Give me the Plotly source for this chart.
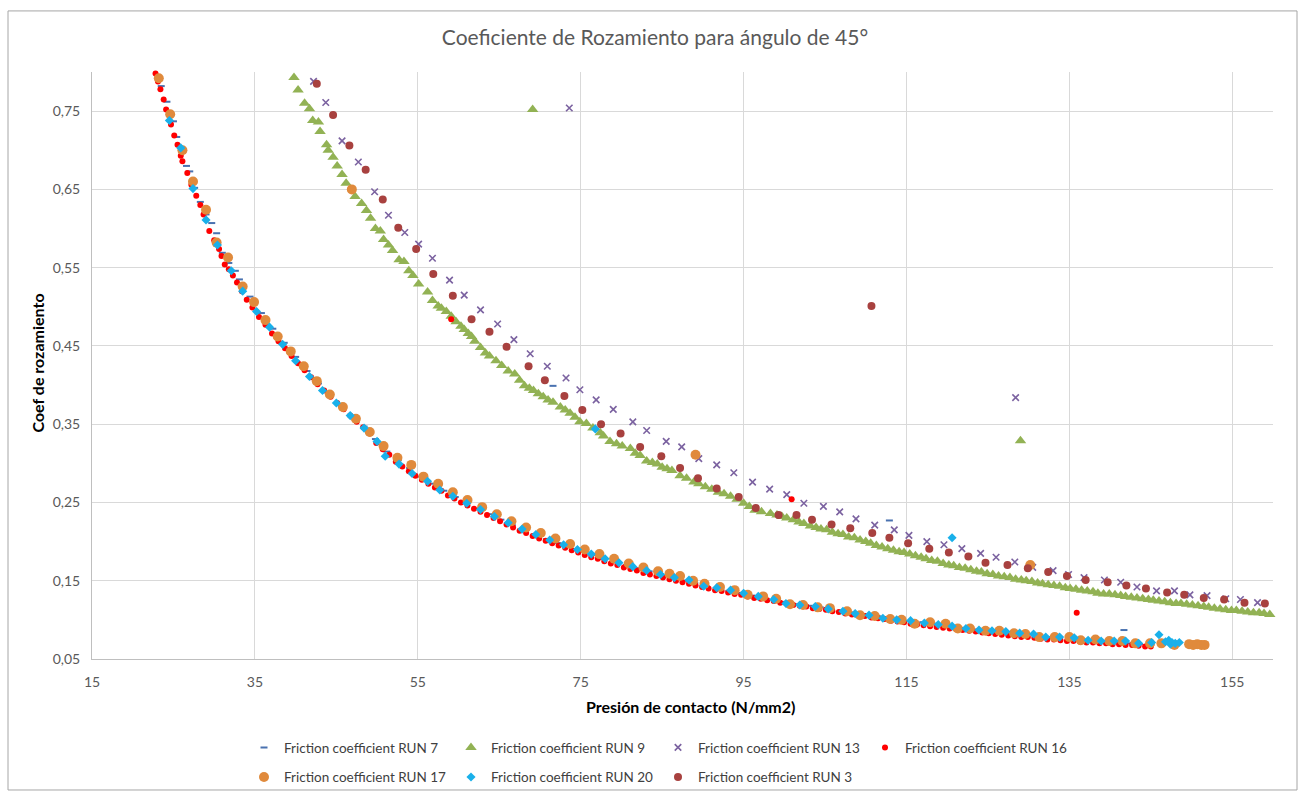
import plotly.graph_objects as go

# ---------------- data ----------------
x_run7 = [23.5, 24.2, 25.0, 25.4, 26.0, 26.6, 27.0, 27.6, 28.3, 29.0, 29.7, 30.3, 31.0, 31.8, 32.6, 33.1,
          34.4, 35.8, 37.2, 38.6, 40.0, 41.4, 42.8, 44.2, 45.6, 47.0, 48.4, 49.8, 51.2, 52.6, 54.0, 55.4,
          56.8, 58.2, 59.6, 61.0, 62.4, 63.8, 65.2, 66.6, 68.0, 69.4, 70.8, 71.6, 72.2, 73.6, 75.0, 76.4,
          77.8, 79.2, 80.6, 82.0, 83.4, 84.8, 86.2, 87.6, 89.0, 90.4, 91.8, 93.2, 94.6, 96.0, 97.4, 98.8,
          100.2, 101.6, 103.0, 104.4, 105.8, 107.2, 108.6, 110.0, 111.4, 112.8, 112.9, 114.2, 115.6, 117.0,
          118.4, 119.8, 121.2, 122.6, 124.0, 125.4, 126.8, 128.2, 129.6, 131.0, 132.4, 133.8, 135.2, 136.6,
          138.0, 139.4, 140.8, 141.7, 142.2, 143.6, 145.0, 146.4, 147.8]
y_run7 = [0.782, 0.762, 0.737, 0.717, 0.698, 0.680, 0.673, 0.652, 0.634, 0.618, 0.607, 0.594, 0.569, 0.556, 0.546, 0.535,
          0.513, 0.492, 0.472, 0.454, 0.436, 0.418, 0.402, 0.388, 0.374, 0.360, 0.347, 0.331, 0.315, 0.304, 0.294, 0.283,
          0.274, 0.265, 0.257, 0.249, 0.242, 0.235, 0.228, 0.221, 0.215, 0.209, 0.203, 0.399, 0.198, 0.193, 0.188, 0.183,
          0.178, 0.174, 0.170, 0.166, 0.162, 0.158, 0.154, 0.150, 0.147, 0.143, 0.140, 0.137, 0.134, 0.131, 0.128, 0.126,
          0.123, 0.120, 0.118, 0.116, 0.113, 0.111, 0.109, 0.107, 0.105, 0.103, 0.227, 0.101, 0.099, 0.097,
          0.095, 0.093, 0.091, 0.089, 0.087, 0.086, 0.084, 0.083, 0.081, 0.080, 0.078, 0.077, 0.076, 0.075,
          0.073, 0.072, 0.071, 0.087, 0.070, 0.069, 0.068, 0.068, 0.067]

x_run9 = [39.8, 40.3, 41.1, 41.7, 42.1, 42.8, 43.0, 43.8, 44.0, 44.6, 45.1, 45.7, 46.2, 47.3, 48.1, 48.7,
          49.2, 49.8, 50.4, 50.8, 51.4, 51.9, 52.7, 53.3, 53.9, 54.4, 55.1, 56.2, 56.8, 57.5, 57.9, 58.5,
          59.1, 59.7, 60.3, 60.7, 61.2, 61.6, 62.0, 62.7, 63.3, 63.8, 64.6, 65.3, 66.1, 66.9, 67.5, 68.1,
          68.7, 69.1, 69.2, 69.8, 70.4, 71.0, 71.6, 72.5, 73.1, 73.7, 74.3, 74.9, 75.7, 76.5, 77.4, 77.8,
          78.6, 79.4, 80.1, 81.1, 81.7, 82.3, 83.1, 83.8, 84.4, 85.0, 85.6, 86.2, 87.2, 88.0, 88.9, 89.5,
          90.3, 91.1, 91.9, 92.6, 93.4, 94.2, 95.0, 95.7, 96.4, 97.2, 98.3, 99.1, 99.7, 100.3, 101.1, 101.8,
          102.4, 103.2, 103.9, 104.5, 105.2, 105.9, 106.6, 107.2, 107.9, 108.6, 109.3, 110.0, 110.6, 111.3,
          112.0, 112.7, 113.4, 114.1, 114.7, 115.4, 116.1, 116.8, 117.4, 118.1, 118.8, 119.5, 120.2, 120.8,
          121.5, 122.2, 122.9, 123.6, 124.2, 124.9, 125.6, 126.3, 127.0, 127.7, 128.4, 129.0, 129.1, 129.7,
          130.4, 131.1, 131.7, 132.4, 133.1, 133.8, 134.5, 135.1, 135.8, 136.5, 137.2, 137.9, 138.5, 139.2,
          139.9, 140.6, 141.3, 141.9, 142.6, 143.3, 144.0, 144.7, 145.3, 146.0, 146.7, 147.4, 148.1, 148.7,
          149.4, 150.1, 150.8, 151.5, 152.1, 152.8, 153.5, 154.2, 154.9, 155.5, 156.2, 156.9, 157.6, 158.3,
          158.9, 159.6]
y_run9 = [0.793, 0.777, 0.760, 0.753, 0.738, 0.736, 0.724, 0.707, 0.700, 0.691, 0.680, 0.669, 0.658, 0.641, 0.632, 0.623,
          0.613, 0.600, 0.597, 0.586, 0.579, 0.572, 0.560, 0.558, 0.546, 0.540, 0.529, 0.519, 0.508, 0.501, 0.498, 0.494,
          0.488, 0.481, 0.475, 0.471, 0.466, 0.462, 0.456, 0.448, 0.441, 0.437, 0.431, 0.425, 0.418, 0.414, 0.406, 0.399,
          0.396, 0.752, 0.393, 0.389, 0.385, 0.381, 0.378, 0.372, 0.368, 0.364, 0.359, 0.353, 0.351, 0.345, 0.339, 0.335,
          0.328, 0.325, 0.322, 0.319, 0.313, 0.310, 0.303, 0.301, 0.299, 0.295, 0.293, 0.291, 0.284, 0.281, 0.276, 0.274,
          0.270, 0.267, 0.263, 0.261, 0.258, 0.254, 0.249, 0.245, 0.240, 0.238, 0.236, 0.234, 0.232, 0.230, 0.228, 0.225,
          0.223, 0.220, 0.218, 0.216, 0.215, 0.212, 0.210, 0.209, 0.206, 0.205, 0.202, 0.200, 0.198, 0.195,
          0.193, 0.191, 0.189, 0.187, 0.186, 0.184, 0.182, 0.180, 0.178, 0.176, 0.175, 0.172, 0.170, 0.169,
          0.167, 0.166, 0.164, 0.162, 0.161, 0.159, 0.158, 0.156, 0.155, 0.154, 0.152, 0.329, 0.151, 0.150,
          0.149, 0.147, 0.146, 0.145, 0.144, 0.143, 0.141, 0.140, 0.139, 0.138, 0.137, 0.136, 0.134, 0.133,
          0.133, 0.132, 0.131, 0.130, 0.129, 0.128, 0.127, 0.126, 0.125, 0.124, 0.123, 0.122, 0.121, 0.121,
          0.120, 0.119, 0.118, 0.117, 0.116, 0.115, 0.114, 0.113, 0.112, 0.112, 0.111, 0.110, 0.109, 0.109,
          0.108, 0.107]

x_run13 = [42.2, 43.7, 45.7, 47.7, 49.7, 51.4, 53.4, 55.1, 56.8, 58.9, 60.7, 62.7, 64.8, 66.8, 68.8, 70.9,
           73.2, 73.6, 74.9, 76.9, 79.0, 81.4, 83.1, 85.5, 87.4, 89.5, 91.7, 93.8, 96.1, 98.2, 100.3, 102.4,
           104.8, 106.8, 108.8, 111.1, 113.5, 115.3, 117.5, 119.6, 121.8, 124.1, 126.0, 128.3, 128.4, 130.5,
           133.0, 134.9, 136.8, 139.3, 141.3, 143.3, 145.7, 147.9, 149.8, 151.9, 154.2, 156.0, 158.1]
y_run13 = [0.788, 0.761, 0.712, 0.685, 0.647, 0.617, 0.595, 0.580, 0.562, 0.534, 0.515, 0.496, 0.478, 0.458, 0.440, 0.424,
           0.409, 0.754, 0.394, 0.381, 0.369, 0.353, 0.342, 0.328, 0.321, 0.306, 0.298, 0.288, 0.276, 0.267, 0.260, 0.249,
           0.245, 0.238, 0.229, 0.221, 0.215, 0.208, 0.200, 0.196, 0.191, 0.185, 0.180, 0.174, 0.384, 0.167,
           0.163, 0.158, 0.154, 0.151, 0.148, 0.142, 0.137, 0.137, 0.132, 0.131, 0.127, 0.126, 0.122]

x_run16 = [22.8, 23.1, 23.4, 23.8, 24.1, 24.7, 25.1, 25.5, 25.9, 26.1, 26.7, 27.2, 27.8, 28.3, 28.7, 29.4,
           30.0, 30.6, 30.9, 31.3, 31.8, 32.3, 32.8, 33.4, 34.0, 34.7, 35.5, 36.3, 37.1, 37.9, 38.7, 39.5,
           40.3, 41.1, 41.9, 42.7, 43.5, 44.3, 45.1, 45.9, 46.7, 47.5, 48.3, 49.1, 49.9, 50.7, 51.5, 52.3,
           53.1, 53.9, 54.7, 55.5, 56.3, 57.1, 57.9, 58.7, 59.1, 59.5, 60.3, 61.1, 61.9, 62.7, 63.5, 64.3,
           65.1, 65.9, 66.7, 67.5, 68.3, 69.1, 69.9, 70.7, 71.5, 72.3, 73.1, 73.9, 74.7, 75.5, 76.3, 77.1,
           77.9, 78.7, 79.5, 80.3, 81.1, 81.9, 82.7, 83.5, 84.3, 85.1, 85.9, 86.7, 87.5, 88.3, 89.1, 89.9,
           90.7, 91.5, 92.3, 93.1, 93.9, 94.7, 95.5, 96.3, 97.1, 97.9, 98.7, 99.5, 100.3, 100.9, 101.1, 101.9,
           102.7, 103.5, 104.3, 105.1, 105.9, 106.7, 107.5, 108.3, 109.1, 109.9, 110.7, 111.5, 112.3, 113.1,
           113.9, 114.7, 115.5, 116.3, 117.1, 117.9, 118.7, 119.5, 120.3, 121.1, 121.9, 122.7, 123.5, 124.3,
           125.1, 125.9, 126.7, 127.5, 128.3, 129.1, 129.9, 130.7, 131.5, 132.3, 133.1, 133.9, 134.7, 135.5,
           135.9, 136.3, 137.1, 137.9, 138.7, 139.5, 140.3, 141.1, 141.9, 142.7, 143.5, 144.3, 145.0]
y_run16 = [0.798, 0.788, 0.778, 0.765, 0.752, 0.733, 0.719, 0.707, 0.693, 0.686, 0.671, 0.656, 0.642, 0.630, 0.618, 0.597,
           0.585, 0.574, 0.565, 0.554, 0.548, 0.540, 0.531, 0.520, 0.509, 0.499, 0.487, 0.477, 0.466, 0.456, 0.447, 0.437,
           0.428, 0.419, 0.410, 0.401, 0.393, 0.385, 0.377, 0.369, 0.361, 0.353, 0.346, 0.338, 0.326, 0.318, 0.311, 0.302,
           0.296, 0.290, 0.284, 0.279, 0.274, 0.269, 0.265, 0.259, 0.484, 0.255, 0.250, 0.246, 0.242, 0.238, 0.234, 0.230,
           0.226, 0.222, 0.218, 0.214, 0.211, 0.207, 0.204, 0.201, 0.198, 0.195, 0.192, 0.189, 0.186, 0.183, 0.180, 0.178,
           0.175, 0.172, 0.170, 0.167, 0.165, 0.163, 0.160, 0.158, 0.156, 0.154, 0.152, 0.150, 0.148, 0.146, 0.144, 0.142,
           0.140, 0.138, 0.137, 0.135, 0.133, 0.132, 0.130, 0.128, 0.127, 0.125, 0.124, 0.122, 0.121, 0.254, 0.119, 0.118,
           0.117, 0.115, 0.114, 0.113, 0.111, 0.110, 0.108, 0.107, 0.106, 0.105, 0.103, 0.102, 0.101, 0.099,
           0.098, 0.097, 0.095, 0.094, 0.093, 0.092, 0.091, 0.090, 0.089, 0.088, 0.087, 0.086, 0.085, 0.084,
           0.083, 0.082, 0.081, 0.080, 0.079, 0.078, 0.078, 0.077, 0.076, 0.075, 0.075, 0.074, 0.073, 0.073,
           0.109, 0.072, 0.071, 0.071, 0.070, 0.070, 0.069, 0.069, 0.068, 0.068, 0.067, 0.066, 0.066]

x_run17 = [23.2, 24.6, 26.1, 27.4, 29.0, 30.3, 31.7, 33.5, 34.9, 36.3, 37.8, 39.4, 41.0, 42.6, 44.2, 45.8,
           46.9, 47.4, 49.1, 50.8, 52.5, 54.2, 55.7, 57.5, 59.3, 61.1, 62.9, 64.7, 66.5, 68.3, 70.1, 71.9,
           73.7, 75.5, 77.3, 79.1, 80.9, 82.7, 84.5, 85.9, 87.2, 88.8, 89.1, 90.2, 92.1, 93.9, 95.5, 97.4,
           99.0, 100.7, 102.3, 104.1, 105.6, 107.7, 109.3, 111.1, 113.0, 114.4, 116.0, 117.9, 119.8, 121.3,
           122.8, 124.7, 126.4, 128.2, 129.6, 130.2, 131.3, 133.2, 135.0, 136.4, 138.2, 139.9, 141.5, 143.1,
           144.9, 146.3, 147.9, 149.7, 150.2, 150.7, 151.2, 151.6]
y_run17 = [0.792, 0.746, 0.700, 0.660, 0.624, 0.582, 0.563, 0.526, 0.506, 0.483, 0.462, 0.443, 0.424, 0.405, 0.388, 0.372,
           0.650, 0.357, 0.340, 0.322, 0.307, 0.298, 0.283, 0.274, 0.263, 0.253, 0.244, 0.235, 0.226, 0.218, 0.211, 0.204,
           0.197, 0.190, 0.184, 0.178, 0.172, 0.167, 0.162, 0.159, 0.156, 0.150, 0.311, 0.146, 0.142, 0.138, 0.132, 0.130,
           0.127, 0.120, 0.119, 0.116, 0.115, 0.111, 0.106, 0.105, 0.101, 0.100, 0.095, 0.097, 0.095, 0.089,
           0.089, 0.086, 0.086, 0.083, 0.082, 0.170, 0.078, 0.078, 0.078, 0.074, 0.075, 0.073, 0.073, 0.070,
           0.070, 0.070, 0.068, 0.069, 0.068, 0.069, 0.068, 0.068]

x_run20 = [24.5, 25.9, 27.4, 29.0, 30.4, 32.1, 33.5, 35.2, 36.8, 38.4, 40.0, 41.7, 43.3, 45.0, 46.7, 48.4,
           50.0, 51.0, 52.7, 54.3, 56.2, 57.7, 59.3, 61.0, 62.7, 64.4, 66.1, 67.8, 69.5, 71.2, 72.9, 74.6,
           76.3, 76.8, 78.0, 79.7, 81.4, 83.1, 84.8, 86.5, 88.3, 90.1, 91.7, 93.4, 95.0, 96.8, 98.7, 100.2,
           101.9, 103.8, 105.4, 107.2, 108.7, 110.4, 112.1, 113.8, 115.5, 117.2, 118.9, 120.6, 120.6, 122.3,
           123.9, 125.5, 127.2, 128.9, 130.6, 132.1, 133.8, 135.6, 137.3, 138.9, 140.5, 141.9, 143.5, 145.1,
           146.0, 146.8, 147.2, 147.4, 147.6, 148.0, 148.5]
y_run20 = [0.738, 0.703, 0.651, 0.611, 0.579, 0.546, 0.520, 0.494, 0.474, 0.452, 0.431, 0.411, 0.393, 0.377, 0.361, 0.345,
           0.328, 0.309, 0.299, 0.287, 0.277, 0.266, 0.258, 0.249, 0.241, 0.232, 0.224, 0.216, 0.209, 0.202, 0.196, 0.190,
           0.184, 0.344, 0.178, 0.173, 0.168, 0.163, 0.158, 0.154, 0.151, 0.143, 0.141, 0.138, 0.134, 0.130, 0.126, 0.121,
           0.119, 0.117, 0.114, 0.111, 0.108, 0.106, 0.102, 0.100, 0.099, 0.096, 0.094, 0.205, 0.092, 0.089,
           0.087, 0.086, 0.085, 0.083, 0.082, 0.078, 0.078, 0.077, 0.074, 0.073, 0.073, 0.073, 0.070, 0.071,
           0.081, 0.072, 0.074, 0.069, 0.071, 0.070, 0.071]

x_run3 = [42.6, 44.6, 46.6, 48.6, 50.7, 52.6, 54.8, 56.9, 59.3, 61.6, 63.8, 65.9, 68.6, 70.6, 73.0, 75.2,
          77.5, 79.9, 82.3, 84.9, 87.2, 89.4, 91.7, 94.4, 96.5, 99.3, 101.5, 103.4, 105.8, 108.1, 110.7, 110.8,
          112.9, 115.2, 117.8, 120.2, 122.6, 124.7, 127.4, 129.9, 132.4, 134.7, 137.0, 139.7, 142.0, 144.4,
          147.0, 149.1, 151.5, 154.0, 156.5, 159.0]
y_run3 = [0.785, 0.745, 0.706, 0.675, 0.637, 0.601, 0.574, 0.542, 0.514, 0.484, 0.468, 0.449, 0.424, 0.406, 0.386, 0.368,
          0.350, 0.338, 0.321, 0.309, 0.294, 0.281, 0.268, 0.257, 0.243, 0.234, 0.234, 0.228, 0.222, 0.217, 0.501, 0.211,
          0.205, 0.198, 0.191, 0.186, 0.181, 0.173, 0.170, 0.166, 0.161, 0.156, 0.151, 0.148, 0.144, 0.140,
          0.135, 0.132, 0.128, 0.126, 0.122, 0.121]

series_names = ["Friction coefficient RUN 7", "Friction coefficient RUN 9", "Friction coefficient RUN 13",
                "Friction coefficient RUN 16", "Friction coefficient RUN 17", "Friction coefficient RUN 20",
                "Friction coefficient RUN 3"]

x_ticks = [15, 35, 55, 75, 95, 115, 135, 155]
y_ticks = [0.05, 0.15, 0.25, 0.35, 0.45, 0.55, 0.65, 0.75]

# ---------------- figure ----------------
W, H = 1305, 805
L, R, T, B = 92, 32, 72, 137
PW, PH = W - L - R, H - T - B


def px_x(p):
    return (p - L) / PW


def px_y(p):
    return (H - B - p) / PH


FONT = "Lato, 'Open Sans', sans-serif"

styles = [
    dict(symbol="line-ew", size=5, color="#4A72B0", line=dict(color="#4A72B0", width=2)),
    dict(symbol="triangle-up", size=10, color="#92B254", line=dict(width=0)),
    dict(symbol="x-thin", size=6.5, color="#7B62A0", line=dict(color="#7B62A0", width=1.6)),
    dict(symbol="circle", size=6, color="#FF0000", line=dict(width=0)),
    dict(symbol="circle", size=10, color="#E08A3C", line=dict(width=0)),
    dict(symbol="diamond", size=7, color="#19B0EA", line=dict(width=0)),
    dict(symbol="circle", size=8, color="#A8413F", line=dict(width=0)),
]
xs = [x_run7, x_run9, x_run13, x_run16, x_run17, x_run20, x_run3]
ys = [y_run7, y_run9, y_run13, y_run16, y_run17, y_run20, y_run3]
legends = ["legend", "legend", "legend", "legend", "legend2", "legend2", "legend2"]

fig = go.Figure()
for name, xv, yv, st, lg in zip(series_names, xs, ys, styles, legends):
    fig.add_trace(go.Scatter(x=xv, y=yv, mode="markers", name=name, marker=st,
                             legend=lg, cliponaxis=False))

legend_common = dict(orientation="h", xanchor="left", yanchor="middle", entrywidth=162,
                     font=dict(family=FONT, size=13.5, color="#404040"), bgcolor="rgba(0,0,0,0)",
                     borderwidth=0, tracegroupgap=0)

fig.update_layout(
    width=W, height=H,
    margin=dict(l=L, r=R, t=T, b=B),
    paper_bgcolor="white", plot_bgcolor="white",
    separators=",.",
    font=dict(family=FONT, color="#595959"),
    title=dict(text="Coeficiente de Rozamiento para ángulo de 45°", x=655 / W, xanchor="center",
               y=1 - 38 / H, yanchor="middle", xref="container", yref="container",
               font=dict(family=FONT, size=21, color="#595959")),
    xaxis=dict(range=[15, 160], tickvals=x_ticks, showgrid=True, gridcolor="#D9D9D9", gridwidth=1,
               showline=True, linecolor="#BFBFBF", linewidth=1, zeroline=False, ticks="",
               ticklabelstandoff=10, tickfont=dict(family=FONT, size=14, color="#595959")),
    yaxis=dict(range=[0.05, 0.8], tickvals=y_ticks, tickformat=".2f", showgrid=True, gridcolor="#D9D9D9",
               gridwidth=1, showline=True, linecolor="#BFBFBF", linewidth=1, zeroline=False, ticks="",
               ticklabelstandoff=8, tickfont=dict(family=FONT, size=14, color="#595959")),
    legend=dict(x=px_x(244), y=px_y(758), **legend_common),
    legend2=dict(x=px_x(244), y=px_y(788), **legend_common),
    showlegend=True,
)

fig.add_annotation(text="<b>Coef de rozamiento</b>", xref="paper", yref="paper", x=px_x(38), y=px_y(368),
                   textangle=-90, showarrow=False, font=dict(family=FONT, size=16, color="#000000"),
                   xanchor="center", yanchor="middle")
fig.add_annotation(text="<b>Presión de contacto (N/mm2)</b>", xref="paper", yref="paper", x=px_x(690),
                   y=px_y(716), showarrow=False, font=dict(family=FONT, size=16, color="#000000"),
                   xanchor="center", yanchor="middle")

fig.add_shape(type="rect", xref="paper", yref="paper", x0=px_x(8), x1=px_x(1297), y0=px_y(801), y1=px_y(10),
              line=dict(color="#A6A6A6", width=1), fillcolor="rgba(0,0,0,0)", layer="below")

fig.write_html("out.html")
